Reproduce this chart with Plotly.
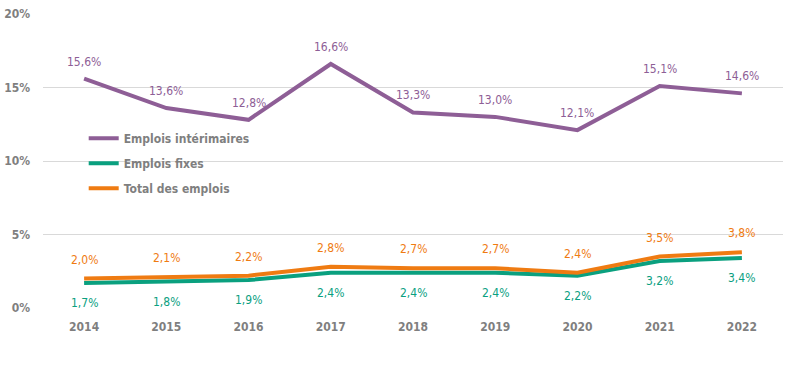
import plotly.graph_objects as go

years = ["2014", "2015", "2016", "2017", "2018", "2019", "2020", "2021", "2022"]
interim = [15.6, 13.6, 12.8, 16.6, 13.3, 13.0, 12.1, 15.1, 14.6]
fixes = [1.7, 1.8, 1.9, 2.4, 2.4, 2.4, 2.2, 3.2, 3.4]
total = [2.0, 2.1, 2.2, 2.8, 2.7, 2.7, 2.4, 3.5, 3.8]
tick_vals = [0, 5, 10, 15, 20]
tick_text = ["0%", "5%", "10%", "15%", "20%"]

FONT = "DejaVu Sans Condensed, Liberation Sans Narrow, sans-serif"
GRAY = "#7f7f7f"

def lab(v):
    return [f"{x:.1f}%".replace(".", ",") for x in v]

fig = go.Figure()
series = [
    ("Emplois intérimaires", interim, "#8e5e96", 17),
    ("Emplois fixes", fixes, "#0aa07f", -20),
    ("Total des emplois", total, "#ef7b12", 19),
]
for i, (name, vals, col, shift) in enumerate(series):
    fig.add_trace(go.Scatter(
        x=years, y=vals, name=name, mode="lines", legendgroup=f"g{i}",
        line=dict(color=col, width=4),
    ))
    for k, (yv, t) in enumerate(zip(vals, lab(vals))):
        fig.add_annotation(x=k, y=yv, text=t, showarrow=False, yshift=shift,
                           font=dict(color=col, size=12, family=FONT))

fig.update_layout(
    width=800, height=367,
    margin=dict(l=43, r=17, t=14, b=59),
    plot_bgcolor="white", paper_bgcolor="white",
    font=dict(family=FONT, color=GRAY, size=12),
    showlegend=True,
    legend=dict(x=0.055, y=0.627, xanchor="left", yanchor="top",
                bgcolor="rgba(0,0,0,0)", tracegroupgap=6,
                font=dict(size=12, color=GRAY, family=FONT, weight="bold"),
                itemwidth=30),
    xaxis=dict(type="category", showgrid=False, zeroline=False, showline=False,
               ticks="", automargin=False, range=[-0.5, 8.5], ticklabelstandoff=10,
               tickfont=dict(size=12, color=GRAY, family=FONT, weight="bold")),
    yaxis=dict(range=[0, 20], tickvals=tick_vals, ticktext=tick_text,
               showgrid=True, gridcolor="#d9d9d9", gridwidth=1, zeroline=False,
               automargin=False, ticklabelstandoff=12,
               tickfont=dict(size=12, color=GRAY, family=FONT, weight="bold")),
)
fig.write_html("out.html", config={"displayModeBar": False},
               post_script="document.body.style.margin='0';")
